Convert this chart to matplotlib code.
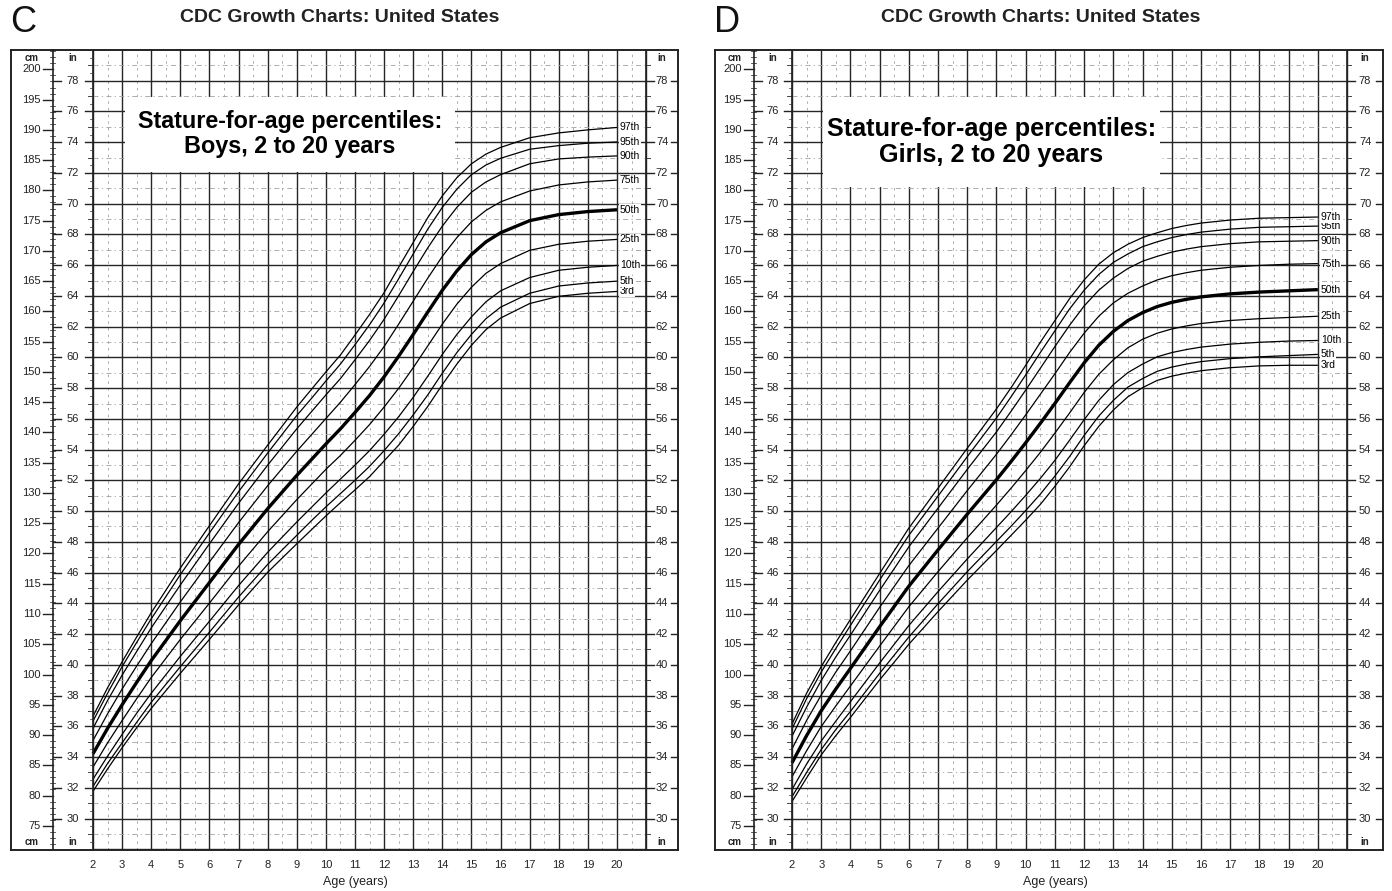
import matplotlib
matplotlib.use("Agg")
import matplotlib.pyplot as plt
from matplotlib.patches import Rectangle
import numpy as np

plt.rcParams["font.family"] = ["Liberation Sans", "DejaVu Sans"]

# ── Stature-for-age percentiles (cm) ─────────────────────
ages = [2, 2.5, 3, 3.5, 4, 5, 6, 7, 8, 9, 9.5, 10, 10.5, 11, 11.5, 12,
        12.5, 13, 13.5, 14, 14.5, 15, 15.5, 16, 17, 18, 19, 20]
pct_names = ["3rd", "5th", "10th", "25th", "50th", "75th", "90th", "95th", "97th"]

boys_p3 = [80.7, 84.4, 87.9, 91.2, 94.4, 100.2, 105.8, 111.5, 116.9, 121.6, 123.9, 126.2, 128.4, 130.5,
           132.7, 135.3, 137.9, 141.0, 144.3, 147.9, 151.3, 154.4, 157.0, 158.9, 161.3, 162.5, 163.0, 163.3]
boys_p5 = [81.5, 85.3, 88.7, 92.1, 95.4, 101.3, 107.0, 112.8, 118.2, 123.0, 125.4, 127.7, 129.9, 132.1,
           134.4, 137.0, 139.8, 142.9, 146.2, 149.8, 153.2, 156.2, 158.8, 160.7, 163.0, 164.2, 164.7, 165.0]
boys_p10 = [82.7, 86.5, 90.1, 93.6, 96.9, 103.0, 108.8, 114.7, 120.2, 125.2, 127.6, 130.0, 132.3, 134.6,
            137.0, 139.7, 142.6, 145.8, 149.3, 152.9, 156.2, 159.1, 161.6, 163.4, 165.6, 166.8, 167.3, 167.6]
boys_p25 = [84.7, 88.7, 92.4, 96.0, 99.5, 105.8, 111.8, 117.9, 123.6, 128.9, 131.4, 133.9, 136.2, 138.7,
            141.3, 144.2, 147.3, 150.7, 154.3, 157.9, 161.2, 164.0, 166.3, 167.9, 170.1, 171.1, 171.6, 171.9]
boys_p50 = [86.9, 91.1, 95.0, 98.7, 102.3, 108.9, 115.2, 121.5, 127.4, 132.9, 135.5, 138.1, 140.6, 143.3,
            146.1, 149.2, 152.6, 156.2, 159.9, 163.5, 166.7, 169.4, 171.5, 173.0, 175.0, 176.0, 176.5, 176.8]
boys_p75 = [89.1, 93.5, 97.6, 101.4, 105.1, 112.0, 118.6, 125.1, 131.2, 136.9, 139.6, 142.3, 145.0, 147.9,
            150.9, 154.2, 157.9, 161.7, 165.5, 169.1, 172.2, 174.8, 176.7, 178.1, 179.9, 180.9, 181.4, 181.7]
boys_p90 = [91.1, 95.7, 99.9, 103.8, 107.7, 114.8, 121.6, 128.3, 134.6, 140.6, 143.4, 146.2, 148.9, 152.0,
            155.2, 158.7, 162.6, 166.6, 170.5, 174.1, 177.2, 179.7, 181.4, 182.6, 184.4, 185.2, 185.5, 185.7]
boys_p95 = [92.3, 96.9, 101.3, 105.3, 109.2, 116.5, 123.4, 130.2, 136.6, 142.8, 145.6, 148.5, 151.3, 154.5,
            157.8, 161.4, 165.4, 169.5, 173.6, 177.2, 180.2, 182.6, 184.2, 185.3, 186.8, 187.4, 187.8, 188.0]
boys_p97 = [93.1, 97.8, 102.1, 106.2, 110.2, 117.6, 124.6, 131.5, 137.9, 144.2, 147.1, 150.0, 152.8, 156.1,
            159.5, 163.1, 167.3, 171.4, 175.5, 179.1, 182.1, 184.4, 186.0, 187.1, 188.7, 189.5, 190.0, 190.4]

girls_p3 = [79.0, 82.9, 86.7, 89.9, 92.9, 99.1, 105.0, 110.4, 115.6, 120.5, 123.0, 125.5, 128.1, 131.1,
            134.3, 137.8, 141.0, 143.7, 145.9, 147.4, 148.6, 149.3, 149.8, 150.2, 150.7, 151.0, 151.1, 151.1]
girls_p5 = [79.8, 83.8, 87.6, 90.9, 93.9, 100.2, 106.2, 111.7, 117.0, 122.0, 124.5, 127.1, 129.8, 132.8,
            136.0, 139.5, 142.7, 145.3, 147.5, 148.9, 150.1, 150.8, 151.3, 151.7, 152.2, 152.5, 152.7, 152.9]
girls_p10 = [81.0, 85.2, 89.0, 92.3, 95.5, 101.9, 108.1, 113.7, 119.1, 124.3, 126.9, 129.6, 132.4, 135.4,
             138.7, 142.1, 145.3, 147.9, 149.9, 151.3, 152.5, 153.2, 153.7, 154.1, 154.6, 154.9, 155.1, 155.2]
girls_p25 = [83.1, 87.4, 91.4, 94.8, 98.1, 104.7, 111.2, 117.0, 122.6, 128.0, 130.8, 133.7, 136.7, 139.9,
             143.2, 146.6, 149.6, 152.0, 154.0, 155.4, 156.4, 157.1, 157.6, 158.0, 158.5, 158.8, 159.0, 159.2]
girls_p50 = [85.4, 89.9, 94.0, 97.6, 101.0, 107.9, 114.6, 120.6, 126.5, 132.2, 135.2, 138.3, 141.5, 144.8,
             148.2, 151.5, 154.4, 156.7, 158.5, 159.8, 160.8, 161.5, 162.0, 162.4, 162.9, 163.2, 163.4, 163.6]
girls_p75 = [87.7, 92.4, 96.6, 100.4, 103.9, 111.1, 118.0, 124.2, 130.4, 136.4, 139.6, 142.9, 146.3, 149.7,
             153.2, 156.4, 159.2, 161.4, 163.0, 164.2, 165.2, 165.9, 166.4, 166.8, 167.3, 167.6, 167.8, 167.9]
girls_p90 = [89.8, 94.6, 99.0, 102.9, 106.5, 113.9, 121.1, 127.5, 133.9, 140.1, 143.5, 147.0, 150.6, 154.2,
             157.7, 160.9, 163.5, 165.5, 167.1, 168.3, 169.1, 169.8, 170.3, 170.7, 171.2, 171.5, 171.6, 171.7]
girls_p95 = [91.0, 96.0, 100.4, 104.3, 108.1, 115.6, 123.0, 129.5, 136.0, 142.4, 145.9, 149.5, 153.2, 156.8,
             160.4, 163.5, 166.1, 168.1, 169.5, 170.7, 171.5, 172.2, 172.7, 173.1, 173.6, 173.9, 174.0, 174.1]
girls_p97 = [91.8, 96.9, 101.3, 105.3, 109.1, 116.7, 124.2, 130.8, 137.4, 143.9, 147.4, 151.1, 154.9, 158.5,
             162.1, 165.2, 167.8, 169.7, 171.1, 172.2, 173.0, 173.7, 174.2, 174.6, 175.1, 175.4, 175.5, 175.6]

boys = [boys_p3, boys_p5, boys_p10, boys_p25, boys_p50, boys_p75, boys_p90, boys_p95, boys_p97]
girls = [girls_p3, girls_p5, girls_p10, girls_p25, girls_p50, girls_p75, girls_p90, girls_p95, girls_p97]

IN = 2.54
W, H = 1392, 891
C_GRID = "#262626"
C_DASH = "#a0a0a0"

fig = plt.figure(figsize=(W / 100, H / 100), dpi=100)


def draw_panel(px_left, px_right, xlim, cm_div, curves, letter, subtitle,
               box, box_fs, title_cx):
    ax = fig.add_axes([px_left / W, 41 / H, (px_right - px_left) / W, 800 / H])
    ax.set_xlim(*xlim)
    ax.set_ylim(71.0, 203.2)
    y0, y1 = ax.get_ylim()
    ax.set_xticks([])
    ax.set_yticks([])
    for s in ax.spines.values():
        s.set_linewidth(1.4)
        s.set_color("#222")
        s.set_zorder(6)
    ppx = (xlim[1] - xlim[0]) / (px_right - px_left)   # years per pixel
    cpx = (y1 - y0) / 800                               # cm per pixel

    # vertical grid: whole years solid, half years dashed
    for a in range(2, 22):
        ax.plot([a, a], [y0, y1], color=C_GRID, lw=1.0, zorder=1)
    for a in np.arange(2.5, 21, 1.0):
        ax.plot([a, a], [y0, y1], color=C_DASH, lw=0.6, ls=(0, (3, 5)), zorder=1)

    # horizontal grid: even inches solid, odd inches dash-dot
    for inch in range(28, 80):
        c = inch * IN
        if c < y0 or c > y1:
            continue
        if inch % 2 == 0:
            ax.plot([2, 21], [c, c], color=C_GRID, lw=1.0, zorder=1)
        else:
            ax.plot([2, 21], [c, c], color=C_DASH, lw=0.6,
                    ls=(0, (6, 4, 1.5, 4)), zorder=1)

    # column dividers
    ax.plot([cm_div, cm_div], [y0, y1], color="#222", lw=1.2, zorder=5)
    ax.plot([2, 2], [y0, y1], color="#222", lw=1.2, zorder=5)
    ax.plot([21, 21], [y0, y1], color="#222", lw=1.2, zorder=5)

    # cm scale
    for cm in range(72, 204):
        if cm % 5 == 0 and 75 <= cm <= 200:
            ax.plot([cm_div - 10 * ppx, cm_div], [cm, cm], color="#222", lw=1.0)
            ax.text(cm_div - 12 * ppx, cm, str(cm), ha="right", va="center",
                    fontsize=8, color="#222")
        else:
            ax.plot([cm_div - 3 * ppx, cm_div + 2 * ppx], [cm, cm], color="#444", lw=0.6)

    # inch scales, left and right
    in_mid = (cm_div + 2) / 2
    r_mid = (21 + xlim[1]) / 2
    for half in range(56, 160):
        inch = half / 2
        c = inch * IN
        if c < y0 + 1 or c > y1 - 1:
            continue
        if half % 4 == 0 and 30 <= inch <= 78:
            ax.plot([cm_div, cm_div + 8 * ppx], [c, c], color="#222", lw=1.0)
            ax.plot([2 - 8 * ppx, 2], [c, c], color="#222", lw=1.0)
            ax.text(in_mid, c, str(int(inch)), ha="center", va="center",
                    fontsize=8, color="#222")
            ax.plot([21, 21 + 8 * ppx], [c, c], color="#222", lw=1.0)
            ax.plot([xlim[1] - 7 * ppx, xlim[1]], [c, c], color="#222", lw=1.0)
            ax.text(r_mid, c, str(int(inch)), ha="center", va="center",
                    fontsize=8, color="#222")
        elif half % 2 == 0:
            ax.plot([2 - 5 * ppx, 2], [c, c], color="#444", lw=0.7)
            ax.plot([21, 21 + 4 * ppx], [c, c], color="#444", lw=0.7)
        else:
            ax.plot([2 - 3 * ppx, 2], [c, c], color="#555", lw=0.6)

    # column headers
    for yy in (y1 - 8 * cpx, y0 + 8 * cpx):
        ax.text((xlim[0] + cm_div) / 2, yy, "cm", ha="center", va="center",
                fontsize=7, fontweight="bold", color="#222")
        ax.text(in_mid, yy, "in", ha="center", va="center",
                fontsize=7, fontweight="bold", color="#222")
        ax.text(r_mid, yy, "in", ha="center", va="center",
                fontsize=7, fontweight="bold", color="#222")

    # title box
    bx0, bx1, by0, by1 = box
    ax.add_patch(Rectangle((bx0, by0), bx1 - bx0, by1 - by0, facecolor="white",
                           edgecolor="none", zorder=2))
    ax.text((bx0 + bx1) / 2, (by0 + by1) / 2, "Stature-for-age percentiles:\n" + subtitle,
            ha="center", va="center", fontsize=box_fs, fontweight="bold",
            linespacing=1.12, zorder=3)

    # percentile curves
    for name, vals in zip(pct_names, curves):
        ax.plot(ages, vals, color="black", lw=2.4 if name == "50th" else 0.9,
                zorder=4, solid_capstyle="butt")
        ax.text(20.1, vals[-1], name, ha="left", va="center", fontsize=7.5,
                zorder=4, bbox=dict(boxstyle="square,pad=0.05", facecolor="white",
                                    edgecolor="none"))

    # age axis labels
    for a in range(2, 21):
        ax.text(a, y0 - 15 * cpx, str(a), ha="center", va="center",
                fontsize=8, color="#222", clip_on=False)
    ax.text(11, y0 - 32 * cpx, "Age (years)", ha="center", va="center",
            fontsize=9, color="#222", clip_on=False)

    fig.text(title_cx / W, 1 - 18 / H, "CDC Growth Charts: United States",
             ha="center", va="center", fontsize=14, fontweight="bold", color="#222")
    fig.text((px_left + 12) / W, 1 - 22 / H, letter, ha="center", va="center",
             fontsize=26, color="#111")
    return ax


draw_panel(11, 678, (-0.817, 22.096), 0.626, boys, "C", "Boys, 2 to 20 years",
           (3.10, 14.44, 183.1, 195.5), 16.8, 340)
draw_panel(715, 1383, (-0.635, 22.23), 0.70, girls, "D", "Girls, 2 to 20 years",
           (3.06, 14.6, 180.6, 195.4), 18.2, 1041)

fig.savefig("out.png", dpi=100, facecolor="white")
